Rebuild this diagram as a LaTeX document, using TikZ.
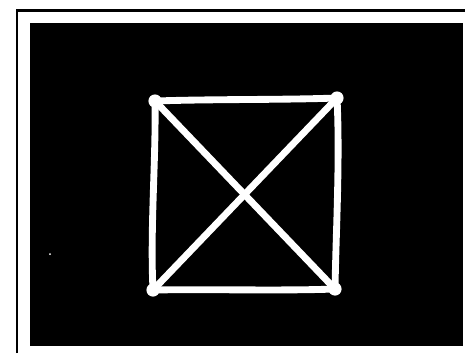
\documentclass[tikz,border=0pt]{standalone}
\begin{document}
\begin{tikzpicture}[x=0.02cm,y=-0.02cm,
  frameline/.style={line width=1.7pt,black},
  chalk/.style={white,line width=3.9pt,line cap=round,line join=round},
  cornerdot/.style={circle,fill=white,inner sep=0pt,minimum size=7.5pt}]
\useasboundingbox (0,0) rectangle (465,353);
\fill[white] (0,0) rectangle (465,353);
% outer frame lines
\draw[frameline] (17,353) -- (17,10.5) -- (465,10.5);
% black panel
\fill[black] (30,23) rectangle (463,346);
% corners
\node[cornerdot] (tl) at (155,101) {};
\node[cornerdot] (tr) at (337,98) {};
\node[cornerdot] (bl) at (153,290) {};
\node[cornerdot] (br) at (335,289) {};
% square
\draw[chalk] (tl.center) .. controls (215,99) and (280,100) .. (tr.center);
\draw[chalk] (tr.center) .. controls (340,160) and (336,230) .. (br.center);
\draw[chalk] (br.center) .. controls (280,291) and (210,289) .. (bl.center);
\draw[chalk] (bl.center) .. controls (150,230) and (156,160) .. (tl.center);
% diagonals
\draw[chalk] (tl.center) -- (br.center);
\draw[chalk] (tr.center) -- (bl.center);
% speck
\fill[white] (50,254) circle (1);
\end{tikzpicture}
\end{document}
